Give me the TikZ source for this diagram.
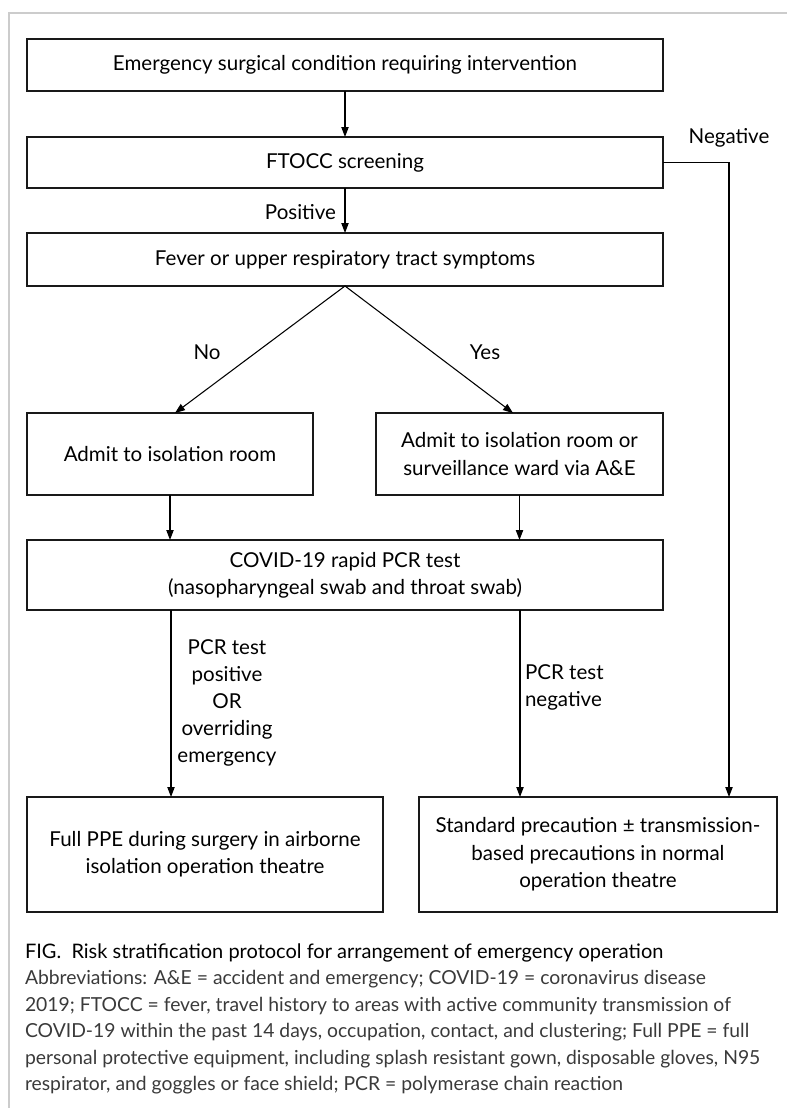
\documentclass[tikz,border=0pt]{standalone}
\usepackage{fontspec}
\setmainfont{Lato}
\usetikzlibrary{arrows.meta,calc}
\definecolor{framegray}{HTML}{CCCCCC}
\definecolor{capgray}{HTML}{3A3A3A}
\begin{document}
\begin{tikzpicture}[x=0.75pt,y=-0.75pt,
  every node/.style={inner sep=0pt, outer sep=0pt},
  boxnode/.style={draw=black!90, line width=1pt, align=center,
    font=\fontsize{15.4}{20.5}\selectfont},
  lbl/.style={font=\fontsize{15.4}{20.3}\selectfont},
  arr/.style={draw=black, line width=0.8pt, -{Triangle[length=7.5pt,width=5.5pt]}},
  capfirst/.style={anchor=base west, font=\fontsize{15}{20}\selectfont},
  capline/.style={anchor=base west, text=capgray, font=\fontsize{14.5}{20}\selectfont}
]
\useasboundingbox (0,0) rectangle (787,1117);
% light frame
\draw[framegray, line width=1.1pt] (787,13) -- (9,13) -- (9,1108);

% boxes
\node[boxnode, minimum width=477pt, minimum height=39pt] (b1) at (345,65)
  {Emergency surgical condition requiring intervention};
\node[boxnode, minimum width=477pt, minimum height=38.25pt] (ftocc) at (345,162.5)
  {FTOCC screening};
\node[boxnode, minimum width=477pt, minimum height=39.75pt] (fever) at (345,259.5)
  {Fever or upper respiratory tract symptoms};
\node[boxnode, minimum width=214.5pt, minimum height=61.5pt] (adm1) at (170,454)
  {Admit to isolation room};
\node[boxnode, minimum width=215.25pt, minimum height=61.5pt] (adm2) at (519.5,454)
  {Admit to isolation room or\\ surveillance ward via A\&E};
\node[boxnode, minimum width=477pt, minimum height=52.5pt] (covid) at (345,575)
  {COVID-19 rapid PCR test\\ (nasopharyngeal swab and throat swab)};
\node[boxnode, minimum width=267pt, minimum height=86.25pt] (ppe) at (205,854.5)
  {Full PPE during surgery in airborne\\ isolation operation theatre};
\node[boxnode, minimum width=268.5pt, minimum height=86.25pt] (std) at (598,854.5)
  {Standard precaution ± transmission-\\ based precautions in normal\\ operation theatre};

% connectors
\draw[arr] (b1.south) -- (ftocc.north);
\draw[arr] (ftocc.south) -- (fever.north);
\draw[arr] (fever.south) -- ($(adm1.north)+(5,0)$);
\draw[arr] (fever.south) -- ($(adm2.north)+(-6.5,0)$);
\draw[arr] (adm1.south) -- (adm1.south |- covid.north);
\draw[arr] (adm2.south) -- (adm2.south |- covid.north);
\coordinate (lx) at (171,0);
\coordinate (rx) at (520,0);
\draw[arr] (covid.south -| lx) -- (ppe.north -| lx);
\draw[arr] (covid.south -| rx) -- (std.north -| rx);
\coordinate (negc) at (729,162.5);
\draw[arr] (ftocc.east) -- (negc) -- (negc |- std.north);

% labels
\node[lbl] (lneg) at (729,138) {Negative};
\node[lbl, anchor=east] (lpos) at (336,212) {Positive};
\node[lbl] (lno) at (207,352) {No};
\node[lbl] (lyes) at (485,352) {Yes};
\node[lbl, align=center] (lpcrp) at (227,703)
  {PCR test\\ positive\\ OR\\ overriding\\ emergency};
\node[lbl, align=left, anchor=west] (lpcrn) at (525,687)
  {PCR test\\ negative};

% caption
\node[capfirst] (cap0) at (25,958) {FIG.\ \ Risk stratification protocol for arrangement of emergency operation};
\node[capline] (cap1) at (25,984.5) {Abbreviations: A\&E = accident and emergency; COVID-19 = coronavirus disease};
\node[capline] (cap2) at (25,1011) {2019; FTOCC = fever, travel history to areas with active community transmission of};
\node[capline] (cap3) at (25,1037.5) {COVID-19 within the past 14 days, occupation, contact, and clustering; Full PPE = full};
\node[capline] (cap4) at (25,1064) {personal protective equipment, including splash resistant gown, disposable gloves, N95};
\node[capline] (cap5) at (25,1090.5) {respirator, and goggles or face shield; PCR = polymerase chain reaction};
\end{tikzpicture}
\end{document}
